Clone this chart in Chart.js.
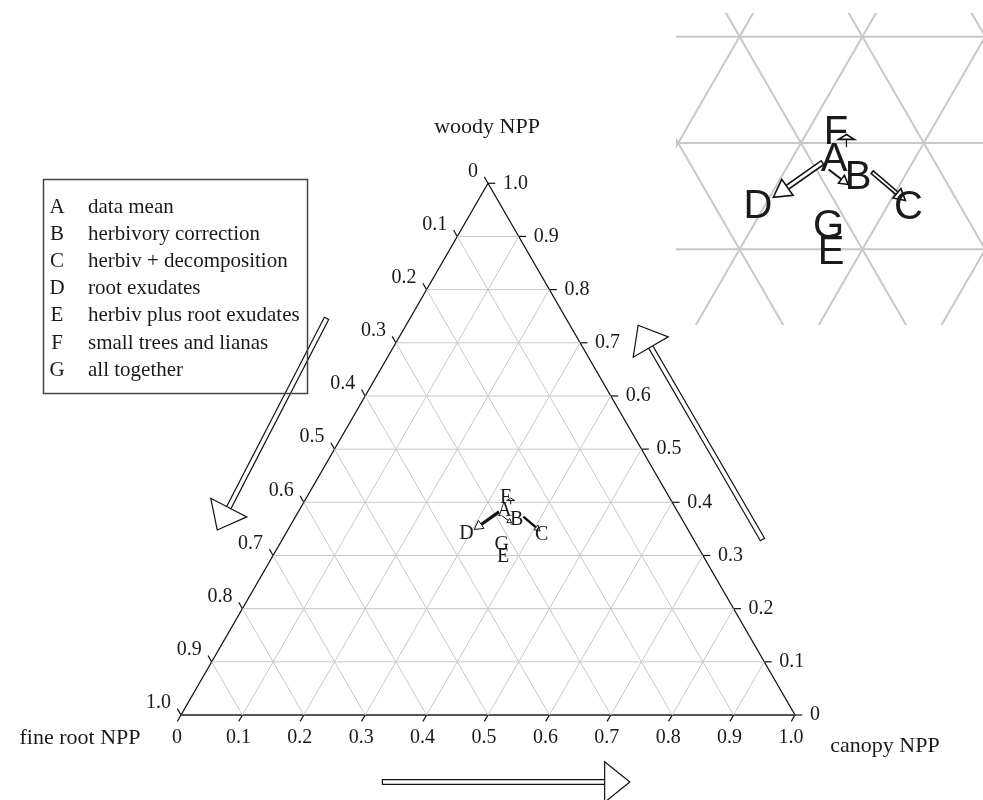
<!DOCTYPE html>
<html>
<head>
<meta charset="utf-8">
<script src="https://cdn.jsdelivr.net/npm/chart.js@4/dist/chart.umd.min.js"></script>
<style>
html, body { margin: 0; padding: 0; background: #fff; }
#wrap { position: relative; width: 983px; height: 800px; }
#mainChart { position: absolute; left: 0; top: 0; }
#zoomChart { position: absolute; left: 676px; top: 13px; }
</style>
</head>
<body>
<div id="wrap">
  <canvas id="mainChart" width="983" height="800"></canvas>
  <canvas id="zoomChart" width="307" height="312"></canvas>
</div>
<script>
// ternary values as [canopy, woody]; fine root = 1 - canopy - woody
const scenarioKeys = ["A", "B", "C", "D", "E", "F", "G"];
const scenarioNames = ["data mean", "herbivory correction", "herbiv + decomposition", "root exudates",
                       "herbiv plus root exudates", "small trees and lianas", "all together"];
const canopyFrac = [0.335, 0.363, 0.418, 0.295, 0.376, 0.324, 0.362];
const woodyFrac  = [0.384, 0.367, 0.339, 0.340, 0.297, 0.409, 0.321];

const tickValues = [0, 0.1, 0.2, 0.3, 0.4, 0.5, 0.6, 0.7, 0.8, 0.9, 1.0];
const tickLabels = ["0", "0.1", "0.2", "0.3", "0.4", "0.5", "0.6", "0.7", "0.8", "0.9", "1.0"];

// shift arrows between scenarios [canopy, woody]
const shiftFrom = [[0.327, 0.382], [0.335, 0.375], [0.371, 0.373], [0.339, 0.396]];
const shiftTo   = [[0.303, 0.349], [0.358, 0.361], [0.412, 0.346], [0.333, 0.408]];

// big direction arrows beside the axes [canopy, woody]
const sideFrom = [[-0.136, 0.747], [0.783, 0.329], [0.390, -0.126]];
const sideTo   = [[-0.115, 0.348], [0.378, 0.733], [0.794, -0.126]];

// arrow styles, in plot units (side length = 1)
const shiftStyle = [
  { w: 0.0050, len: 0.014, half: 0.0080 },
  { w: 0.0016, len: 0.007, half: 0.0040 },
  { w: 0.0040, len: 0.009, half: 0.0050 },
  { w: 0.0010, len: 0.004, half: 0.0065 }
];
const sideStyle = { w: 0.0098, len: 0.041, half: 0.033 };

const SQ = Math.sqrt(3) / 2;
function toXY(c, w) { return { x: c + w / 2, y: w * SQ }; }

function gridSets(lw) {
  const sets = [];
  for (let i = 1; i < 10; i++) {
    const k = i / 10;
    sets.push([toXY(0, k), toXY(1 - k, k)]);
    sets.push([toXY(k, 0), toXY(k, 1 - k)]);
    sets.push([toXY(1 - k, 0), toXY(0, 1 - k)]);
  }
  return sets.map(d => ({ data: d, showLine: true, borderColor: "#c8c8c8", borderWidth: lw, pointRadius: 0 }));
}

function edgeSets() {
  return [
    { data: [toXY(0, 0), toXY(1, 0)], showLine: true, borderColor: "#555", borderWidth: 2, pointRadius: 0 },
    { data: [toXY(0, 0), toXY(0, 1)], showLine: true, borderColor: "#111", borderWidth: 1.3, pointRadius: 0 },
    { data: [toXY(1, 0), toXY(0, 1)], showLine: true, borderColor: "#111", borderWidth: 1.3, pointRadius: 0 }
  ];
}

function labelSet() {
  return { data: canopyFrac.map((c, i) => toXY(c, woodyFrac[i])), pointRadius: 0, showLine: false };
}

function drawArrow(ctx, p0, p1, st, ppu, lw) {
  const dx = p1[0] - p0[0], dy = p1[1] - p0[1];
  const L = Math.hypot(dx, dy);
  const ux = dx / L, uy = dy / L, nx = -uy, ny = ux;
  const len = st.len * ppu, half = st.half * ppu, sw = st.w * ppu;
  const bx = p1[0] - ux * len, by = p1[1] - uy * len;
  ctx.save();
  ctx.lineCap = "butt";
  ctx.beginPath(); ctx.moveTo(p0[0], p0[1]); ctx.lineTo(bx, by);
  ctx.strokeStyle = "#111"; ctx.lineWidth = Math.max(sw, 1); ctx.stroke();
  if (sw > 3.5) {
    ctx.beginPath(); ctx.moveTo(p0[0] + ux * lw, p0[1] + uy * lw); ctx.lineTo(bx + ux, by + uy);
    ctx.strokeStyle = "#fff"; ctx.lineWidth = sw - 2 * lw; ctx.stroke();
  }
  ctx.beginPath();
  ctx.moveTo(p1[0], p1[1]);
  ctx.lineTo(bx + nx * half, by + ny * half);
  ctx.lineTo(bx - nx * half, by - ny * half);
  ctx.closePath();
  ctx.fillStyle = "#fff"; ctx.fill();
  ctx.strokeStyle = "#111"; ctx.lineWidth = lw; ctx.lineJoin = "miter"; ctx.stroke();
  ctx.restore();
}

const decor = {
  id: "decor",
  afterDatasetsDraw(chart, args, opts) {
    const ctx = chart.ctx, xs = chart.scales.x, ys = chart.scales.y, a = chart.chartArea;
    const ppu = xs.getPixelForValue(1) - xs.getPixelForValue(0);
    const px = (c, w) => { const p = toXY(c, w); return [xs.getPixelForValue(p.x), ys.getPixelForValue(p.y)]; };
    const lw = opts.main ? 1 : 1.6;

    ctx.save();
    ctx.beginPath(); ctx.rect(a.left, a.top, a.right - a.left, a.bottom - a.top); ctx.clip();
    shiftFrom.forEach((f, i) => drawArrow(ctx, px(f[0], f[1]), px(shiftTo[i][0], shiftTo[i][1]), shiftStyle[i], ppu, lw));
    const meta = chart.getDatasetMeta(chart.data.datasets.length - 1);
    ctx.font = opts.pointFont;
    ctx.fillStyle = "#1a1a1a";
    ctx.textAlign = "center"; ctx.textBaseline = "middle";
    meta.data.forEach((el, i) => ctx.fillText(scenarioKeys[i], el.x, el.y));
    ctx.restore();

    if (!opts.main) return;
    ctx.save();
    const tl = 0.012;
    ctx.strokeStyle = "#111"; ctx.lineWidth = 1.2;
    ctx.fillStyle = "#1a1a1a";
    ctx.font = "20px 'Liberation Serif', 'DejaVu Serif', serif";
    ctx.textBaseline = "middle";
    tickValues.forEach((t, i) => {
      // bottom axis: canopy
      let p = px(t, 0), q = px(t, -tl);
      ctx.beginPath(); ctx.moveTo(p[0], p[1]); ctx.lineTo(q[0], q[1]); ctx.stroke();
      ctx.textAlign = "center";
      ctx.fillText(tickLabels[i], p[0] - 4, p[1] + 23);
      // right axis: woody
      p = px(1 - t, t); q = px(1 - t + tl, t);
      ctx.beginPath(); ctx.moveTo(p[0], p[1]); ctx.lineTo(q[0], q[1]); ctx.stroke();
      ctx.textAlign = "left";
      ctx.fillText(tickLabels[i], p[0] + 15, p[1]);
      // left axis: fine root
      p = px(0, 1 - t); q = px(-tl, 1 - t + tl);
      ctx.beginPath(); ctx.moveTo(p[0], p[1]); ctx.lineTo(q[0], q[1]); ctx.stroke();
      ctx.textAlign = "right";
      ctx.fillText(tickLabels[i], p[0] - 10, p[1] - 12);
    });

    // axis titles
    ctx.font = "22px 'Liberation Serif', 'DejaVu Serif', serif";
    ctx.textAlign = "center";
    const apex = px(0, 1), bl = px(0, 0), br = px(1, 0);
    ctx.fillText("woody NPP", apex[0] - 1, apex[1] - 56);
    ctx.fillText("fine root NPP", bl[0] - 101, bl[1] + 23);
    ctx.fillText("canopy NPP", br[0] + 90, br[1] + 31);

    // side arrows
    sideFrom.forEach((f, i) => drawArrow(ctx, px(f[0], f[1]), px(sideTo[i][0], sideTo[i][1]), sideStyle, ppu, 1.2));

    // legend box
    ctx.strokeStyle = "#444"; ctx.lineWidth = 1.5;
    ctx.strokeRect(43.5, 179.5, 264, 214);
    ctx.fillStyle = "#1a1a1a";
    ctx.font = "21px 'Liberation Serif', 'DejaVu Serif', serif";
    scenarioKeys.forEach((k, i) => {
      const y = 207 + i * 27.2;
      ctx.textAlign = "center";
      ctx.fillText(k, 57, y);
      ctx.textAlign = "left";
      ctx.fillText(scenarioNames[i], 88, y);
    });
    ctx.restore();
  }
};

function makeChart(id, sets, range, opts) {
  return new Chart(document.getElementById(id).getContext("2d"), {
    type: "scatter",
    data: { datasets: sets },
    options: {
      responsive: false, animation: false, events: [],
      layout: { padding: 0, autoPadding: false },
      scales: {
        x: { type: "linear", display: false, min: range[0], max: range[1] },
        y: { type: "linear", display: false, min: range[2], max: range[3] }
      },
      plugins: { legend: { display: false }, tooltip: { enabled: false }, decor: opts }
    },
    plugins: [decor]
  });
}

makeChart("mainChart",
  gridSets(1).concat(edgeSets(), [labelSet()]),
  [-0.294788, 1.306189, -0.138436, 1.164495],
  { main: true, pointFont: "20px 'Liberation Serif', 'DejaVu Serif', serif" });

makeChart("zoomChart",
  gridSets(2).concat([labelSet()]),
  [0.39821, 0.64821, 0.19820, 0.45227],
  { main: false, pointFont: "40px 'Liberation Sans', Arial, sans-serif" });
</script>
</body>
</html>
